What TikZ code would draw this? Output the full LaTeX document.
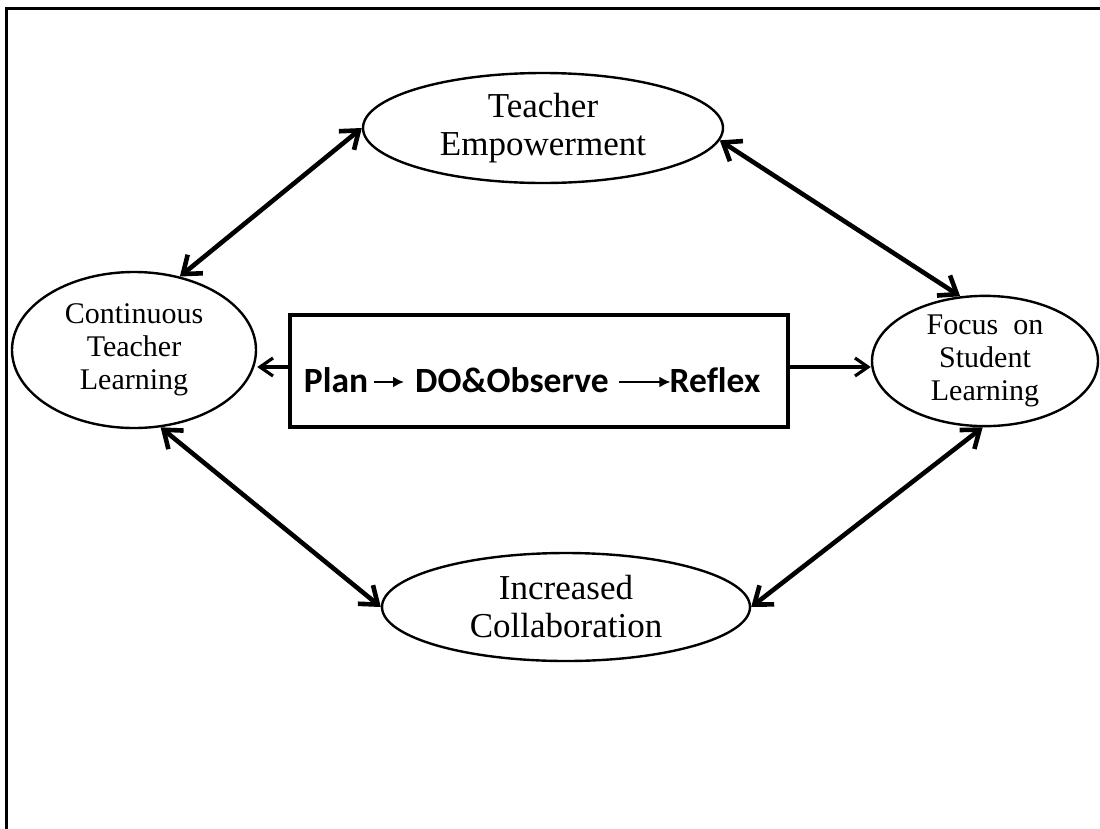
\documentclass[tikz,border=0pt]{standalone}
\usepackage{fontspec}
\setmainfont{Liberation Serif}
\newfontfamily\boxfont[Ligatures=NoCommon]{Carlito}
\usetikzlibrary{shapes.geometric,arrows.meta}
\begin{document}
\begin{tikzpicture}[x=1pt,y=-1pt,
  oval/.style={draw, ellipse, line width=2.4pt, inner sep=0pt, align=center,
    font=\fontsize{30}{33}\selectfont},
  bigoval/.style={oval, font=\fontsize{35}{38}\selectfont},
  link/.style={line width=4.6pt, line join=miter,
    {Straight Barb[length=16pt,width=24pt]}-{Straight Barb[length=16pt,width=24pt]}},
  feed/.style={line width=3.2pt, -{Straight Barb[length=13pt,width=18pt]}},
  step arrow/.style={line width=2.8pt, -{Latex[length=11pt,width=11pt]}},
  cyc/.style={font=\boxfont\bfseries\fontsize{35.5}{40}\selectfont, inner sep=0pt, anchor=base}
]
\useasboundingbox (0,0) rectangle (1100,828);
\fill[white] (0,0) rectangle (1100,828);
% outer frame
\draw[line width=3pt] (1110,8) -- (6,8) -- (6,840);

% ellipses
\node[bigoval, minimum width=360pt, minimum height=110pt] (te) at (543,128) {Teacher\\Empowerment};
\node[oval, minimum width=244pt, minimum height=156pt] (ctl) at (134,350) {Continuous\\Teacher\\Learning};
\node[oval, minimum width=226pt, minimum height=126pt] (fsl) at (985,361) {Focus~~on\\Student\\Learning};
\node[bigoval, minimum width=368pt, minimum height=108pt] (ic) at (566,607) {Increased\\Collaboration};

% central box
\node[draw, line width=3.2pt, minimum width=498pt, minimum height=112pt, inner sep=0pt] (box) at (539,371) {};
\node[cyc] (plan) at (336,392) {Plan};
\node[cyc] (do) at (512,392) {DO\&Observe};
\node[cyc] (reflex) at (715,392) {Reflex};
\draw[step arrow] ([shift={(6pt,10pt)}]plan.base east) -- ([shift={(-11pt,10pt)}]do.base west);
\draw[step arrow] ([shift={(10pt,10pt)}]do.base east) -- ([shift={(1pt,10pt)}]reflex.base west);

% box to ellipses
\draw[feed] ([yshift=4pt]box.west) -- ([yshift=4pt]box.west -| ctl.east);
\draw[feed] ([yshift=4pt]box.east) -- ([yshift=4pt]box.east -| fsl.west);

% double arrows
\draw[link] (te.west) -- (ctl.58);
\draw[link] (te.-4) -- (fsl.111);
\draw[link] (ctl.-71) -- (ic.west);
\draw[link] (fsl.-92) -- (ic.east);
\end{tikzpicture}
\end{document}
